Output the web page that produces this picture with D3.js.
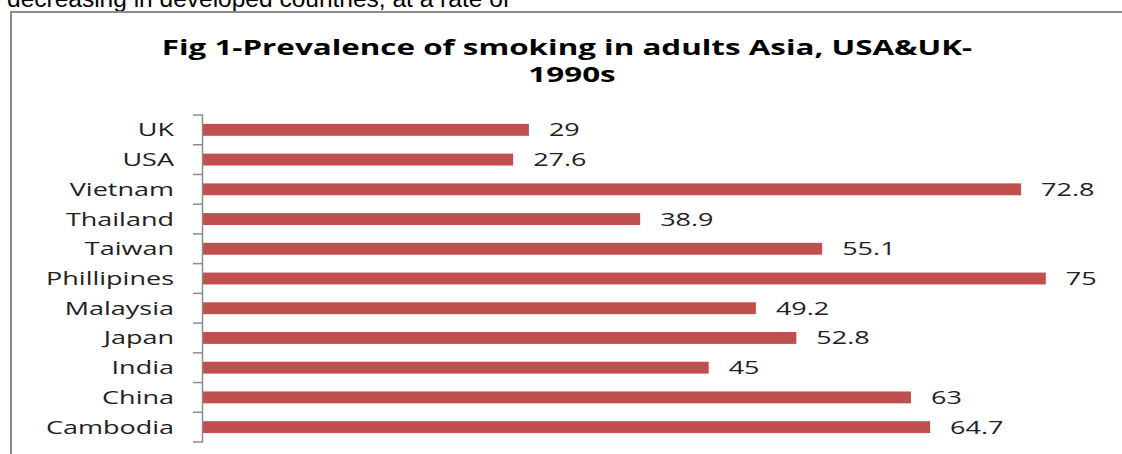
<!DOCTYPE html>
<html>
<head>
<meta charset="utf-8">
<script src="https://cdn.jsdelivr.net/npm/d3@7/dist/d3.min.js"></script>
<style>
    body {
        margin: 0;
        padding: 0;
        background: #fff;
        overflow: hidden;
    }
</style>
</head>
<body>
<div id="chart-container"></div>
<script>
    // data, top row first as in the figure
    var countries = ["UK", "USA", "Vietnam", "Thailand", "Taiwan", "Phillipines",
                     "Malaysia", "Japan", "India", "China", "Cambodia"];
    var prevalence = [29, 27.6, 72.8, 38.9, 55.1, 75, 49.2, 52.8, 45, 63, 64.7];
    var valueLabels = ["29", "27.6", "72.8", "38.9", "55.1", "75", "49.2", "52.8", "45", "63", "64.7"];
    var titleLines = ["Fig 1-Prevalence of smoking in adults Asia, USA&UK-", "1990s"];
    var pageText = "decreasing in developed countries, at a rate of";

    var WIDTH = 1122, HEIGHT = 454;
    var STRETCH = 1.5; // the scanned figure is stretched sideways
    var BAR_COLOR = "#c0504d";
    var AXIS_COLOR = "#8c8c8c";

    var rows = countries.map(function(c, i) {
        return {name: c, value: prevalence[i], label: valueLabels[i]};
    });

    var svg = d3.select("#chart-container")
        .append("svg")
        .attr("width", WIDTH)
        .attr("height", HEIGHT);

    // body text of the page, cut off at the top
    svg.append("text")
        .attr("x", 7)
        .attr("y", 7)
        .style("font-family", "'Liberation Sans', Arial, sans-serif")
        .style("font-size", "24.5px")
        .style("fill", "#000")
        .text(pageText);

    // chart frame
    svg.append("rect")
        .attr("x", 11)
        .attr("y", 12)
        .attr("width", WIDTH + 20)
        .attr("height", HEIGHT + 20)
        .style("fill", "none")
        .style("stroke", AXIS_COLOR)
        .style("stroke-width", 2);

    // title
    titleLines.forEach(function(line, i) {
        svg.append("text")
            .attr("transform", "translate(" + (i ? 572 : 567) + "," + (55 + i * 27) + ") scale(" + (STRETCH * 1.02) + ",1)")
            .attr("text-anchor", "middle")
            .style("font-family", "'Open Sans', sans-serif")
            .style("font-weight", "bold")
            .style("font-size", "20.5px")
            .style("fill", "#000")
            .text(line);
    });

    var x = d3.scaleLinear()
        .domain([0, 80])
        .range([203, 1102]);

    var y = d3.scaleBand()
        .domain(countries)
        .range([115, 442])
        .paddingInner(0.6)
        .paddingOuter(0.3);

    var x0 = x(0);

    // bars
    svg.selectAll("rect.bar")
        .data(rows)
        .enter()
        .append("rect")
        .attr("class", "bar")
        .attr("x", x0)
        .attr("y", function(d) { return y(d.name); })
        .attr("width", function(d) { return x(d.value) - x0; })
        .attr("height", y.bandwidth())
        .style("fill", BAR_COLOR);

    // category axis: line plus ticks between categories
    var gap = y.step() * y.paddingInner() / 2;
    var boundaries = countries.map(function(c) { return y(c) - gap; });
    boundaries.push(y(countries[countries.length - 1]) + y.bandwidth() + gap);

    svg.append("line")
        .attr("x1", x0 - 0.5).attr("x2", x0 - 0.5)
        .attr("y1", boundaries[0]).attr("y2", boundaries[boundaries.length - 1])
        .style("stroke", AXIS_COLOR)
        .style("stroke-width", 1.5);

    svg.selectAll("line.tick")
        .data(boundaries)
        .enter()
        .append("line")
        .attr("class", "tick")
        .attr("x1", x0 - 10).attr("x2", x0)
        .attr("y1", function(d) { return d; })
        .attr("y2", function(d) { return d; })
        .style("stroke", AXIS_COLOR)
        .style("stroke-width", 1.5);

    // category labels
    svg.selectAll("text.cat")
        .data(rows)
        .enter()
        .append("text")
        .attr("class", "cat")
        .attr("text-anchor", "end")
        .attr("dy", "0.36em")
        .attr("transform", function(d) {
            return "translate(" + (x0 - 29) + "," + (y(d.name) + y.bandwidth() / 2) + ") scale(" + STRETCH + ",1)";
        })
        .style("font-family", "'Open Sans', sans-serif")
        .style("font-size", "18px")
        .style("fill", "#222")
        .text(function(d) { return d.name; });

    // value labels
    svg.selectAll("text.val")
        .data(rows)
        .enter()
        .append("text")
        .attr("class", "val")
        .attr("dy", "0.36em")
        .attr("transform", function(d) {
            return "translate(" + (x(d.value) + 20) + "," + (y(d.name) + y.bandwidth() / 2) + ") scale(" + STRETCH + ",1)";
        })
        .style("font-family", "'Open Sans', sans-serif")
        .style("font-size", "18px")
        .style("fill", "#222")
        .text(function(d) { return d.label; });
</script>
</body>
</html>
